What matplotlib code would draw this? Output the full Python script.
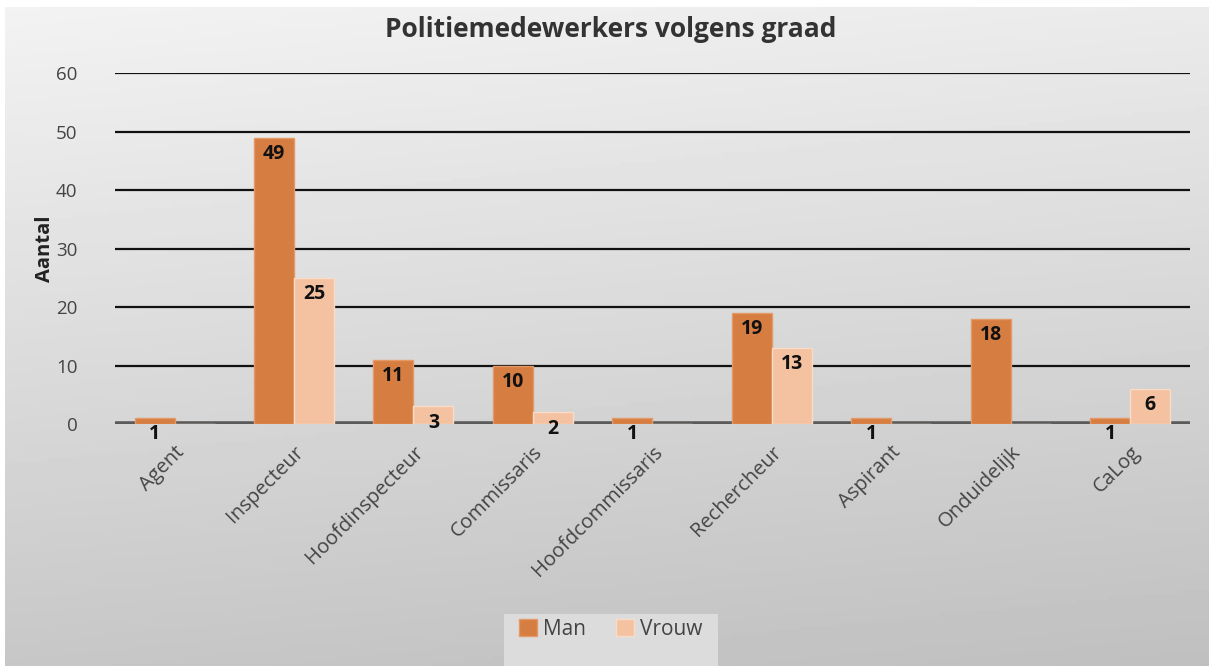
import numpy as np
import matplotlib
matplotlib.use("Agg")
import matplotlib.pyplot as plt
from matplotlib.patches import Rectangle

graden = ["Agent", "Inspecteur", "Hoofdinspecteur", "Commissaris", "Hoofdcommissaris",
          "Rechercheur", "Aspirant", "Onduidelijk", "CaLog"]
man = [1, 49, 11, 10, 1, 19, 1, 18, 1]
vrouw = [0, 25, 3, 2, 0, 13, 0, 0, 6]
yticks = [0, 10, 20, 30, 40, 50, 60]

plt.rcParams["font.family"] = ["Open Sans", "DejaVu Sans"]

fig = plt.figure(figsize=(12.09, 6.66), dpi=100)

# achtergrond met verloop (licht boven, donkerder onder)
bg = fig.add_axes([0.004, 0, 0.996, 0.989], zorder=-10)
yy, xx = np.mgrid[0:1:200j, 0:1:200j]
grad = 0.95 - 0.17 * yy - 0.03 * xx
bg.imshow(grad, cmap="gray", vmin=0, vmax=1, aspect="auto", extent=[0, 1, 0, 1],
          origin="upper")
bg.axis("off")

# lichter vlak achter de legenda
fig.patches.append(Rectangle((0.417, 0), 0.177, 0.078, transform=fig.transFigure,
                             facecolor="#dcdcdc", edgecolor="none", zorder=-5))

ax = fig.add_axes([0.095, 0.3634, 0.889, 0.5266])
ax.patch.set_alpha(0)

x = np.arange(len(graden))
w = 0.335
b1 = ax.bar(x - w / 2, man, width=w, color="#D67D41", edgecolor="#E39A68", linewidth=1, zorder=3,
            label="Man")
b2 = ax.bar(x + w / 2, vrouw, width=w, color="#F4C2A1", edgecolor="#F9DCC8", linewidth=1, zorder=3,
            label="Vrouw")

for bars, vals in [(b1, man), (b2, vrouw)]:
    for rect, v in zip(bars, vals):
        if v == 0:
            continue
        ax.annotate(str(v), (rect.get_x() + rect.get_width() / 2, v), xytext=(0, -4.5),
                    textcoords="offset points", ha="center", va="top",
                    fontsize=14, fontweight="bold", color="#111111", zorder=5)

ax.set_ylim(0, 60)
ax.set_xlim(-0.5, len(graden) - 0.5)
ax.set_yticks(yticks)
ax.grid(axis="y", color="#111111", linewidth=1.6, zorder=1)
ax.axhline(0, color="#5a5a5a", linewidth=4, zorder=2)
for s in ax.spines.values():
    s.set_visible(False)
ax.tick_params(axis="y", length=0, labelsize=13.5, colors="#444444", pad=27)
ax.tick_params(axis="x", length=0, labelsize=14.5, colors="#444444", pad=13)
ax.set_xticks(x)
ax.set_xticklabels(graden, rotation=45, ha="right", rotation_mode="anchor")
ax.set_ylabel("Aantal", fontsize=14.5, fontweight="bold", color="#222222")
ax.yaxis.set_label_coords(-0.056, 0.5)

fig.text(0.505, 0.956, "Politiemedewerkers volgens graad", ha="center", va="center",
         fontsize=19, fontweight="bold", color="#333333")

leg = fig.legend(loc="center", bbox_to_anchor=(0.505, 0.055), ncol=2, frameon=False,
                 fontsize=15, handlelength=0.85, handleheight=0.85, columnspacing=1.45,
                 handletextpad=0.3, borderpad=0.3)
for t in leg.get_texts():
    t.set_color("#444444")

fig.savefig("out.png", dpi=100)
